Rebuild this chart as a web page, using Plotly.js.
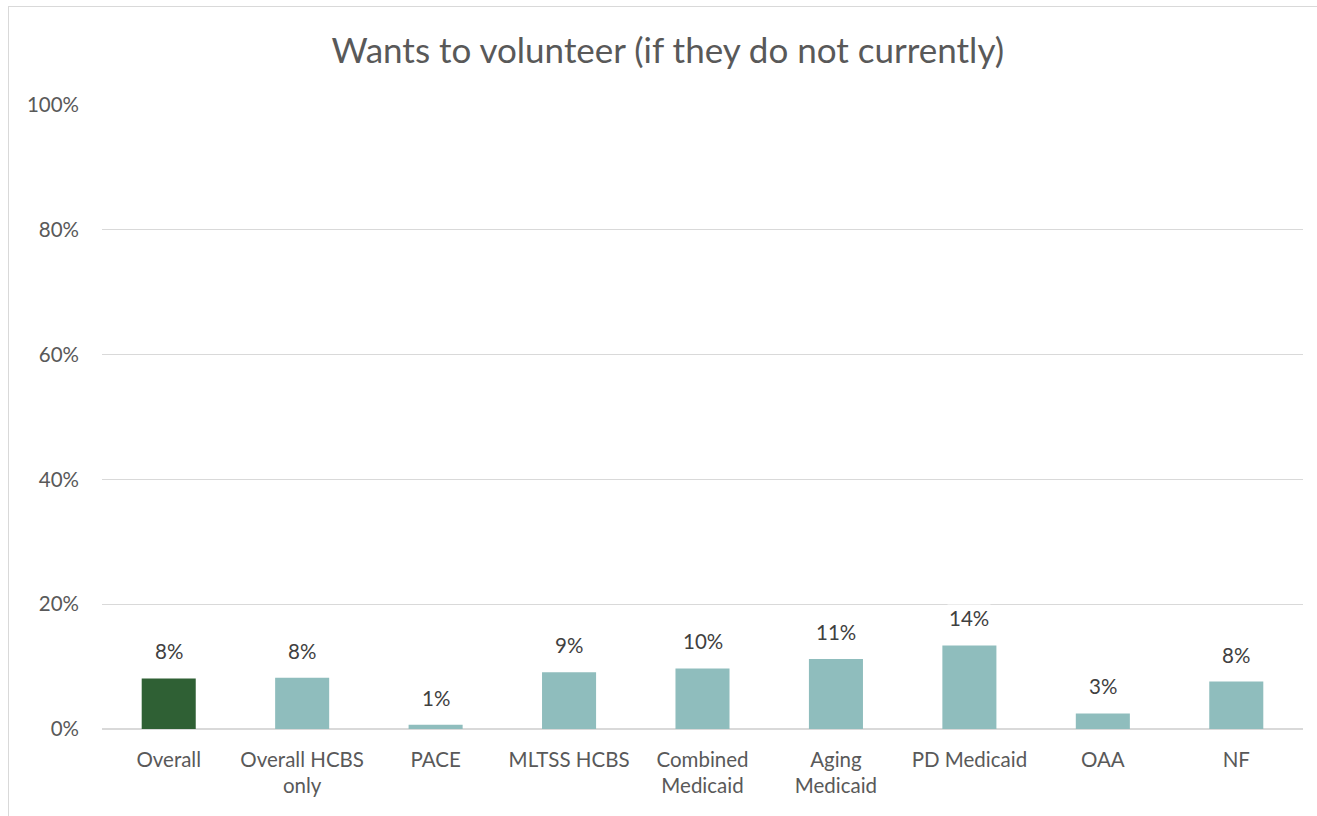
<!DOCTYPE html>
<html>
<head>
<meta charset="utf-8">
<script src="https://cdn.plot.ly/plotly-3.0.1.min.js"></script>
<style>
  html, body { margin: 0; padding: 0; background: #fff; overflow: hidden; }
  #chart { position: absolute; left: 0; top: 0; width: 1317px; height: 816px; }
  #frame { position: absolute; left: 8px; top: 6px; width: 1400px; height: 900px;
           border-left: 1px solid #d9d9d9; border-top: 1px solid #d9d9d9; pointer-events: none; }
</style>
</head>
<body>
<div id="chart"></div>
<div id="frame"></div>
<script>
const categories = ["Overall", "Overall HCBS<br>only", "PACE", "MLTSS HCBS", "Combined<br>Medicaid", "Aging<br>Medicaid", "PD Medicaid", "OAA", "NF"];
const values = [8.1, 8.2, 0.7, 9.1, 9.7, 11.2, 13.4, 2.5, 7.6];
const labels = ["8%", "8%", "1%", "9%", "10%", "11%", "14%", "3%", "8%"];
const barColors = ["#2f6034", "#8fbdbd", "#8fbdbd", "#8fbdbd", "#8fbdbd", "#8fbdbd", "#8fbdbd", "#8fbdbd", "#8fbdbd"];
const yTicks = [0, 20, 40, 60, 80, 100];
const yTickText = ["0%", "20%", "40%", "60%", "80%", "100%"];

const FONT = "Lato, 'Open Sans', sans-serif";
const TXT = "#595959";

const trace = {
  type: "bar",
  x: categories,
  y: values,
  marker: { color: barColors },
  hoverinfo: "skip"
};

const annotations = categories.map((c, i) => ({
  x: c, y: values[i], xref: "x", yref: "y",
  text: labels[i], showarrow: false,
  yanchor: "bottom", yshift: 13,
  font: { family: FONT, size: 20.5, color: "#404040" },
  bgcolor: "#ffffff", borderpad: 1
}));

const layout = {
  width: 1317, height: 816,
  margin: { l: 102, r: 14, t: 105, b: 87 },
  paper_bgcolor: "#ffffff", plot_bgcolor: "#ffffff",
  title: { text: "Wants to volunteer (if they do not currently)", x: 0.507, xanchor: "center", y: 0.938, yanchor: "middle",
           font: { family: FONT, size: 35, color: TXT } },
  bargap: 0.595,
  showlegend: false,
  xaxis: {
    type: "category",
    tickfont: { family: FONT, size: 20.5, color: TXT },
    showgrid: false, zeroline: false, showline: false, ticks: "", ticklen: 0,
    ticklabelstandoff: 16
  },
  yaxis: {
    range: [0, 100], tickvals: yTicks, ticktext: yTickText,
    tickfont: { family: FONT, size: 20.5, color: TXT },
    showgrid: true, gridcolor: "#d9d9d9", gridwidth: 1.3,
    zeroline: true, zerolinecolor: "#d9d9d9", zerolinewidth: 1.3,
    showline: false, ticks: "", ticklabelstandoff: 22, fixedrange: true
  },
  annotations: annotations
};

Plotly.newPlot("chart", [trace], layout, { displayModeBar: false, staticPlot: true });
</script>
</body>
</html>
